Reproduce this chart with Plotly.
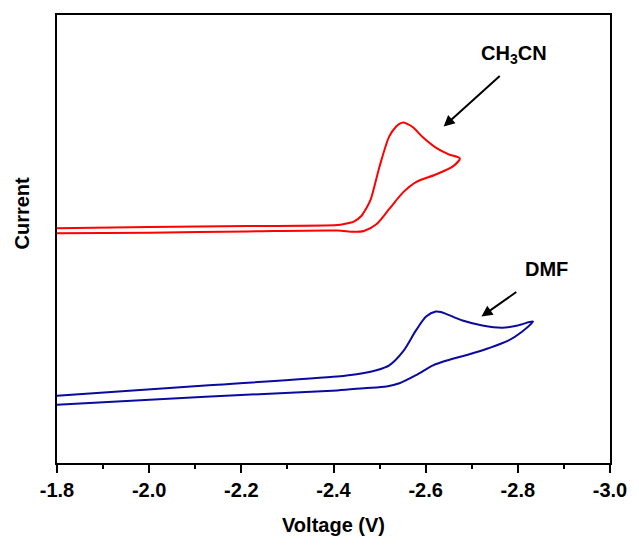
import plotly.graph_objects as go

# Cyclic voltammograms (arbitrary current units), scan out to the vertex and back
ch3cn_fwd_v = [-1.800, -2.000, -2.214, -2.408, -2.425, -2.444, -2.461, -2.472, -2.481,
               -2.500, -2.521, -2.536, -2.543, -2.551, -2.560, -2.573, -2.594, -2.622,
               -2.650, -2.674]
ch3cn_fwd_i = [52.4, 52.7, 52.9, 53.1, 53.4, 53.9, 55.2, 57.0, 58.9,
               66.2, 72.9, 75.1, 75.7, 76.0, 75.7, 74.9, 72.7, 70.4,
               68.9, 68.0]
ch3cn_rev_v = [-2.659, -2.622, -2.579, -2.551, -2.521, -2.493, -2.466, -2.444,
               -2.408, -2.214, -2.000, -1.800]
ch3cn_rev_i = [66.2, 64.4, 62.7, 60.4, 56.7, 53.3, 51.8, 51.6,
               51.9, 51.7, 51.4, 51.3]

dmf_fwd_v = [-1.800, -2.122, -2.408, -2.450, -2.493, -2.521, -2.551, -2.579,
             -2.601, -2.622, -2.633, -2.644, -2.680, -2.723, -2.766, -2.800, -2.833]
dmf_fwd_i = [15.0, 17.3, 19.3, 19.8, 20.7, 21.8, 24.9, 29.6,
             32.7, 33.8, 33.7, 33.3, 31.8, 30.7, 30.2, 30.7, 31.6]
dmf_rev_v = [-2.809, -2.779, -2.736, -2.693, -2.650, -2.616, -2.579, -2.543,
             -2.515, -2.466, -2.408, -2.122, -1.800]
dmf_rev_i = [29.3, 27.3, 25.6, 24.2, 23.0, 21.8, 19.6, 17.8,
             17.1, 16.7, 16.2, 14.8, 13.0]

x_ticks = [-1.8, -2.0, -2.2, -2.4, -2.6, -2.8, -3.0]
x_tick_text = ["-1.8", "-2.0", "-2.2", "-2.4", "-2.6", "-2.8", "-3.0"]

FONT = "Liberation Sans, Arial, sans-serif"
BOLD = dict(family=FONT, size=20, color="black", weight="bold")

fig = go.Figure()
fig.add_trace(go.Scatter(
    x=ch3cn_fwd_v + ch3cn_rev_v, y=ch3cn_fwd_i + ch3cn_rev_i,
    mode="lines", line=dict(color="#FF0000", width=2, shape="spline", smoothing=0.8),
    name="CH3CN", showlegend=False))
fig.add_trace(go.Scatter(
    x=dmf_fwd_v + dmf_rev_v, y=dmf_fwd_i + dmf_rev_i,
    mode="lines", line=dict(color="#0A0AA0", width=2, shape="spline", smoothing=0.8),
    name="DMF", showlegend=False))

# Labels with arrows pointing at each curve
fig.add_annotation(x=-2.639, y=75.1, ax=-2.764, ay=86.7, axref="x", ayref="y",
                   xref="x", yref="y", text="", showarrow=True,
                   arrowhead=2, arrowsize=1.1, arrowwidth=2, arrowcolor="black")
fig.add_annotation(x=-2.721, y=32.7, ax=-2.800, ay=38.4, axref="x", ayref="y",
                   xref="x", yref="y", text="", showarrow=True,
                   arrowhead=2, arrowsize=1.1, arrowwidth=2, arrowcolor="black")
fig.add_annotation(x=-2.792, y=91.1, xref="x", yref="y", text="CH<sub>3</sub>CN",
                   showarrow=False, font=BOLD)
fig.add_annotation(x=-2.863, y=43.3, xref="x", yref="y", text="DMF",
                   showarrow=False, font=BOLD)

# Y axis title placed as rotated text
fig.add_annotation(x=(22 - 57) / 559, y=(465 - 214) / 450, xref="paper", yref="paper",
                   text="Current", textangle=-90, showarrow=False,
                   xanchor="center", yanchor="middle", font=BOLD)

fig.update_layout(
    width=639, height=545,
    margin=dict(l=57, r=23, t=15, b=80),
    paper_bgcolor="white", plot_bgcolor="white",
    showlegend=False,
)

fig.update_xaxes(
    range=[-1.8, -3.0], tickvals=x_ticks, ticktext=x_tick_text,
    showline=True, linecolor="black", linewidth=2, mirror=True,
    ticks="outside", ticklen=8, tickwidth=2, tickcolor="black",
    minor=dict(dtick=0.1, ticks="outside", ticklen=4, tickwidth=2, tickcolor="black", tick0=-1.8),
    showgrid=False, zeroline=False,
    tickfont=dict(family=FONT, size=20, color="black", weight="bold"),
    title=dict(text="Voltage (V)", standoff=18,
               font=dict(family=FONT, size=20, color="black", weight="bold")),
)
fig.update_yaxes(
    range=[0, 100], showticklabels=False, ticks="",
    showline=True, linecolor="black", linewidth=2, mirror=True,
    showgrid=False, zeroline=False,
)

fig.write_html("out.html")
